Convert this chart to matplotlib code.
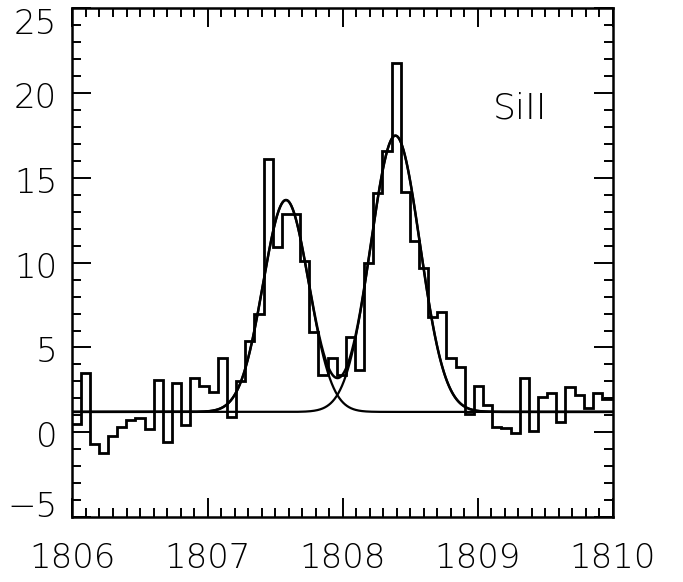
import numpy as np
import matplotlib
matplotlib.use("Agg")
import matplotlib.pyplot as plt
from matplotlib.transforms import ScaledTranslation

# Observed spectrum: flux per wavelength bin (uniform bins)
bin_start = 1805.992
bin_width = 0.0677
flux = [0.5, 3.5, -0.7, -1.2, -0.2, 0.3, 0.7, 0.85, 0.2, 3.1,
        -0.55, 2.9, 0.45, 3.2, 2.75, 2.35, 4.4, 0.9, 3.05, 5.4,
        7.0, 16.1, 10.9, 12.9, 12.9, 10.1, 5.9, 3.4, 4.4, 3.4,
        5.6, 3.7, 10.0, 14.1, 16.6, 21.8, 14.2, 11.3, 9.7, 6.8,
        7.1, 4.4, 3.85, 1.1, 2.7, 1.6, 0.3, 0.25, -0.05, 3.2,
        0.05, 2.05, 2.3, 0.6, 2.65, 2.2, 1.45, 2.3, 1.95, 2.0]

# Two-component Gaussian fit on a flat continuum
continuum = 1.2
centers = [1807.58, 1808.39]
amplitudes = [12.5, 16.3]
sigmas = [0.169, 0.182]

label_text = "SiII"
x_ticks = [1806, 1807, 1808, 1809, 1810]
y_ticks = [-5, 0, 5, 10, 15, 20, 25]

plt.rcParams['font.family'] = ['DejaVu Sans']

fig = plt.figure(figsize=(6.83, 5.82), dpi=100)
ax = fig.add_axes([0.1061, 0.1117, 0.7914, 0.8737])

edges = bin_start + bin_width * np.arange(len(flux) + 1)
ax.stairs(flux, edges, baseline=None, color='black', linewidth=2.0)

xs = np.linspace(1806, 1810, 2000)
comps = [a * np.exp(-0.5 * ((xs - c) / s) ** 2)
         for c, a, s in zip(centers, amplitudes, sigmas)]
ax.plot(xs, continuum + comps[0], color='black', linewidth=1.6)
ax.plot(xs, continuum + comps[1], color='black', linewidth=1.6)
ax.plot(xs, continuum + comps[0] + comps[1], color='black', linewidth=1.8)

ax.text(1809.11, 18.5, label_text, fontsize=26, ha='left', va='baseline',
        fontweight='light')

ax.set_xlim(1806, 1810)
ax.set_ylim(-5, 25)
ax.set_xticks(x_ticks)
ax.set_xticklabels([str(t) for t in x_ticks])
ax.set_yticks(y_ticks)
ax.set_yticklabels([("\u2212" + str(-t)) if t < 0 else str(t) for t in y_ticks])
ax.set_xticks(np.arange(1806, 1810.001, 0.1), minor=True)
ax.set_yticks(np.arange(-5, 25.001, 1), minor=True)

ax.tick_params(which='both', direction='in', top=True, right=True,
               width=1.4, colors='black')
ax.tick_params(which='major', length=14)
ax.tick_params(which='minor', length=6.5)
ax.tick_params(axis='x', which='major', pad=18, labelsize=24.5)
ax.tick_params(axis='y', which='major', pad=11, labelsize=24.5)

for lab in ax.get_xticklabels() + ax.get_yticklabels():
    lab.set_fontweight('light')

# keep the end labels of the y axis inside the frame height
ylabs = ax.get_yticklabels()
shifts = {0: 13, len(ylabs) - 1: -13}
for i, lab in enumerate(ylabs):
    dy = shifts.get(i, -2) / 100.0
    lab.set_transform(lab.get_transform() +
                      ScaledTranslation(0, dy, fig.dpi_scale_trans))

for sp in ax.spines.values():
    sp.set_linewidth(1.8)

fig.savefig("out.png", dpi=100)
